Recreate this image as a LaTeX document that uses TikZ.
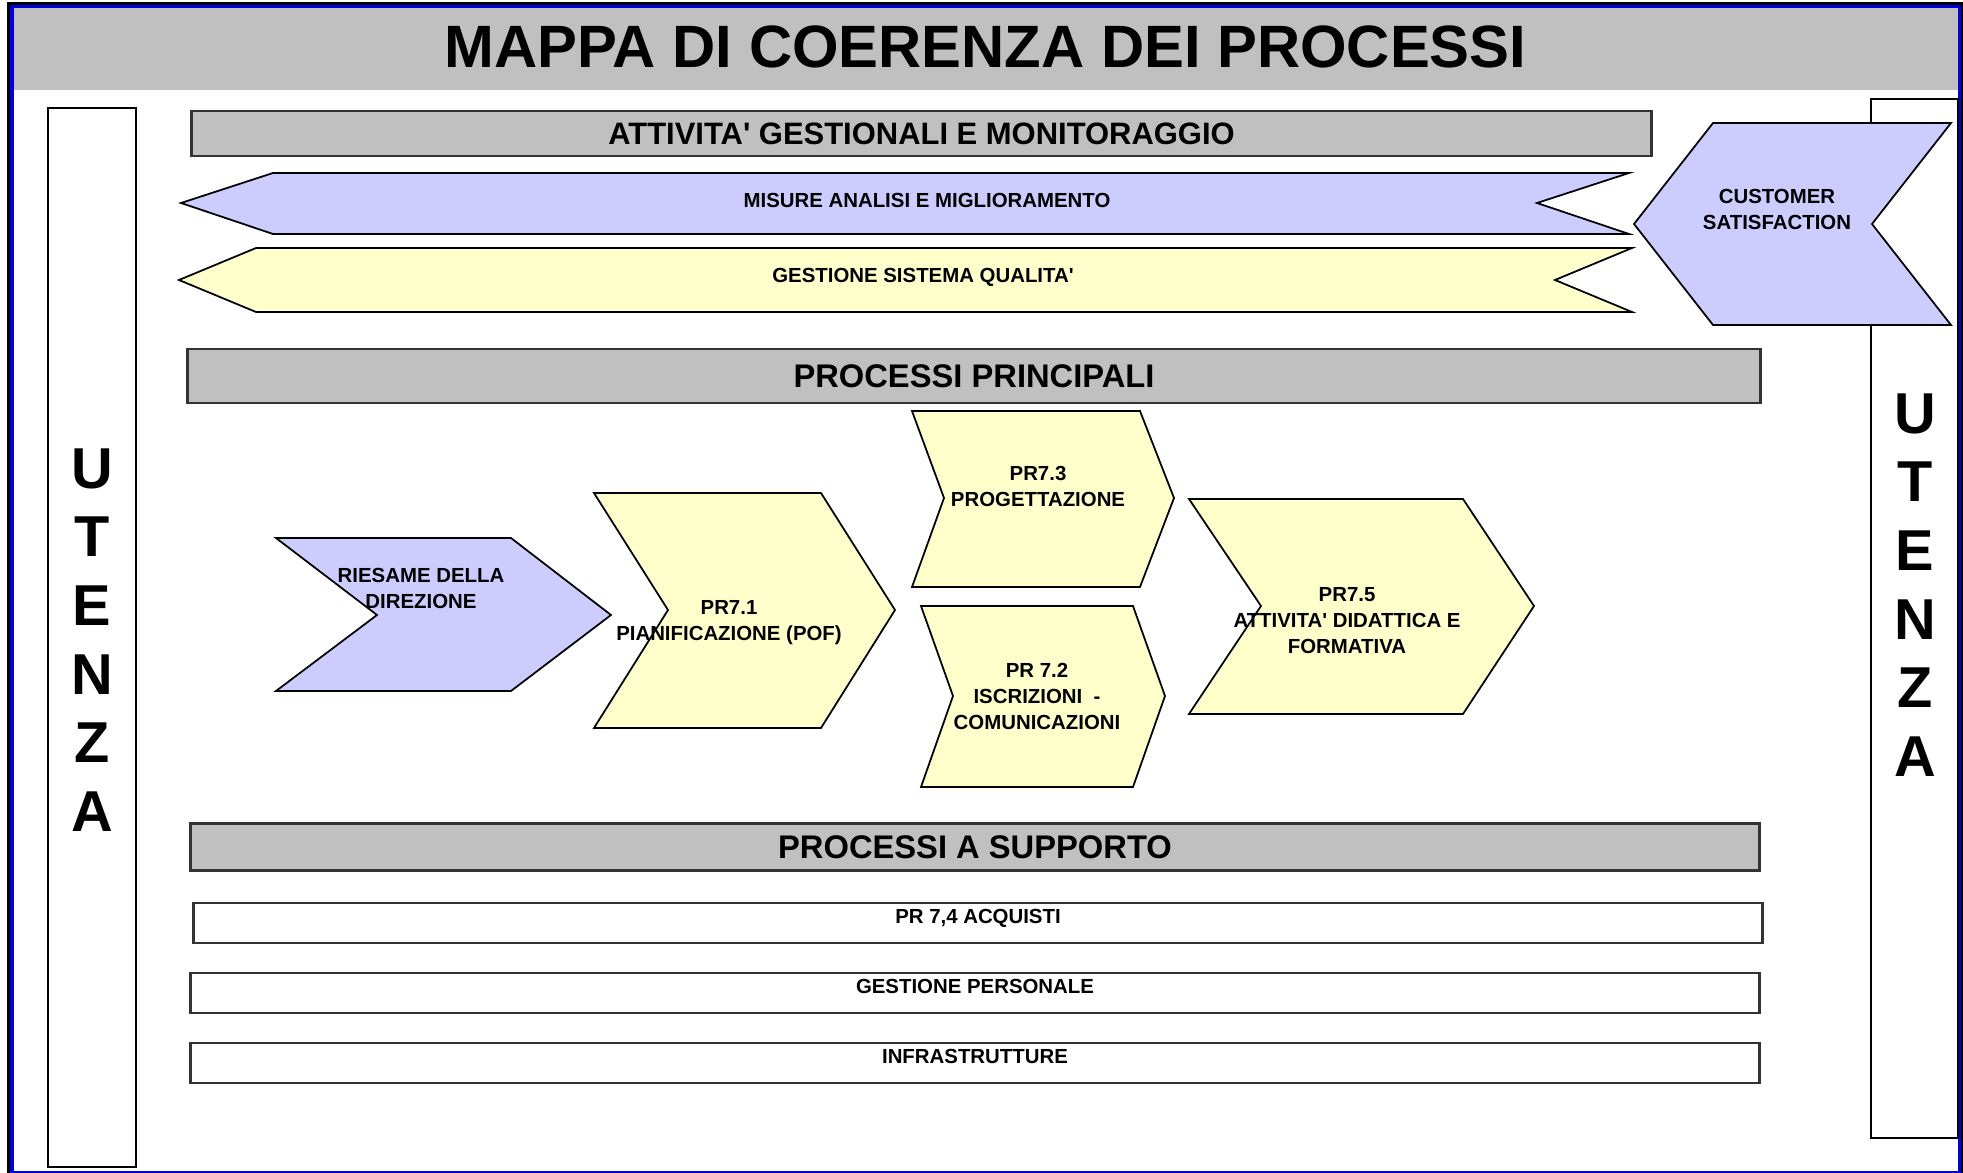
\documentclass[tikz,border=0pt]{standalone}
\usepackage{fontspec}
\setmainfont{Liberation Sans}
\definecolor{grigio}{RGB}{192,192,192}
\definecolor{lilla}{RGB}{204,204,255}
\definecolor{giallino}{RGB}{255,255,204}
\definecolor{bordoblu}{RGB}{0,0,225}

\begin{document}
\begin{tikzpicture}[x=0.01cm, y=-0.01cm,
    barra/.style={rectangle, draw=black!80, line width=0.7pt, fill=grigio, font=\fontsize{9.3}{11}\selectfont\bfseries},
    casella/.style={rectangle, draw=black!80, line width=0.6pt, inner ysep=0pt, minimum width=15.68cm, minimum height=0.4cm, text height=0.147cm, text depth=0.14cm, font=\fontsize{5.8}{7}\selectfont\bfseries},
    forma/.style={draw=black, line width=0.5pt},
    testo/.style={align=center, font=\fontsize{5.8}{7.4}\selectfont\bfseries},
    lettere/.style={align=center, font=\fontsize{16.4}{19.5}\selectfont\bfseries},
]
    \useasboundingbox (0,0) rectangle (1963,1173);

    % Cornice e titolo
    \draw[black, line width=0.03cm] (9,4) rectangle (1962,1190);
    \node[fill=grigio, minimum width=19.47cm, minimum height=0.83cm, inner sep=0pt, text height=0.43cm, text depth=0.06cm,
          font=\fontsize{17}{20}\selectfont\bfseries] (titolo) at (985.5,48.5) {MAPPA DI COERENZA DEI PROCESSI};
    \draw[bordoblu, line width=0.03cm] (12,7) rectangle (1959,1172);

    % Utenza
    \draw[forma, line width=0.6pt] (48,108) rectangle (136,1167);
    \node[lettere] (utenzaSx) at (92,640) {U\\T\\E\\N\\Z\\A};
    \draw[forma, line width=0.6pt] (1871,99) rectangle (1958,1138);
    \node[lettere] (utenzaDx) at (1915,585) {U\\T\\E\\N\\Z\\A};

    % Attivita' gestionali
    \node[barra, minimum width=14.59cm, minimum height=0.45cm, font=\fontsize{8.8}{11}\selectfont\bfseries] (gestionali) at (921.5,133.5)
        {ATTIVITA\textquotesingle{} GESTIONALI E MONITORAGGIO};

    \draw[forma, fill=lilla] (181,203) -- (273,173) -- (1629,173) -- (1537,203) -- (1629,234) -- (273,234) -- cycle;
    \node[testo] (misure) at (927,200) {MISURE ANALISI E MIGLIORAMENTO};

    \draw[forma, fill=giallino] (179,280) -- (256,248) -- (1632,248) -- (1555,280) -- (1632,312) -- (256,312) -- cycle;
    \node[testo] (qualita) at (923,277) {GESTIONE SISTEMA QUALITA\textquotesingle};

    \draw[forma, fill=lilla] (1634,224) -- (1713,123) -- (1951,123) -- (1872,224) -- (1951,325) -- (1713,325) -- cycle;
    \node[testo] (customer) at (1777,209) {CUSTOMER\\SATISFACTION};

    % Processi principali
    \node[barra, minimum width=15.72cm, minimum height=0.54cm] (principali) at (974,376) {PROCESSI PRINCIPALI};

    \draw[forma, fill=lilla] (276,538) -- (511,538) -- (611,615) -- (511,691) -- (276,691) -- (377,615) -- cycle;
    \node[testo] (riesame) at (421,588) {RIESAME DELLA\\DIREZIONE};

    \draw[forma, fill=giallino] (594,493) -- (821,493) -- (895,610) -- (821,728) -- (594,728) -- (668,610) -- cycle;
    \node[testo] (pianificazione) at (729,623) {PR7.1\\PIANIFICAZIONE (POF)};

    \draw[forma, fill=giallino] (912,411) -- (1140,411) -- (1174,498) -- (1140,587) -- (912,587) -- (944,498) -- cycle;
    \node[testo] (progettazione) at (1038,486) {PR7.3\\PROGETTAZIONE};

    \draw[forma, fill=giallino] (921,606) -- (1133,606) -- (1165,696) -- (1133,787) -- (921,787) -- (953,696) -- cycle;
    \node[testo] (iscrizioni) at (1037,696) {PR 7.2\\ISCRIZIONI~~-\\COMUNICAZIONI};

    \draw[forma, fill=giallino] (1189,499) -- (1463,499) -- (1534,606) -- (1463,714) -- (1189,714) -- (1261,606) -- cycle;
    \node[testo] (didattica) at (1347,621) {PR7.5\\ATTIVITA\textquotesingle{} DIDATTICA E\\FORMATIVA};

    % Processi a supporto
    \node[barra, minimum width=15.68cm, minimum height=0.46cm] (supporto) at (975,847) {PROCESSI A SUPPORTO};

    \node[casella] (acquisti) at (978,923) {PR 7,4 ACQUISTI};
    \node[casella] (personale) at (975,993) {GESTIONE PERSONALE};
    \node[casella] (infrastrutture) at (975,1063) {INFRASTRUTTURE};
\end{tikzpicture}
\end{document}
